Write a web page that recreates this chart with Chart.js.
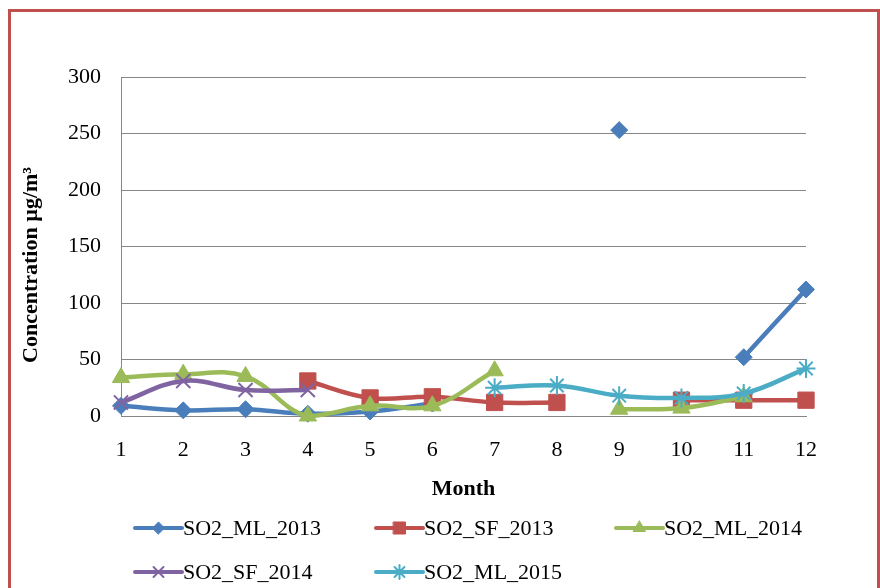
<!DOCTYPE html>
<html>
<head>
<meta charset="utf-8">
<script src="https://cdn.jsdelivr.net/npm/chart.js@4.4.1/dist/chart.umd.min.js"></script>
<style>
  html, body { margin: 0; padding: 0; background: #fff; }
  #wrap { position: relative; width: 880px; height: 588px; overflow: hidden; }
  #frame { position: absolute; left: 8px; top: 9px; width: 866px; height: 600px; border: 3px solid #C0504D; }
  #chart { position: absolute; left: 0; top: 0; }
</style>
</head>
<body>
<div id="wrap">
  <div id="frame"></div>
  <canvas id="chart" width="880" height="588"></canvas>
</div>
<script>
const months = ['1', '2', '3', '4', '5', '6', '7', '8', '9', '10', '11', '12'];

const so2ML2013 = [9, 5, 6, 2, 4, 11, null, null, 253, null, 52, 112];
const so2SF2013 = [null, null, null, 31, 16, 17, 12, 12, null, 14, 14, 14];
const so2ML2014 = [34, 37, 35, 0, 9, 9, 40, null, 6, 7, 17, null];
const so2SF2014 = [12, 31, 23, 23, null, null, null, null, null, null, null, null];
const so2ML2015 = [null, null, null, null, null, null, 25, 27, 18, 16, 20, 42];

const seriesNames = ['SO2_ML_2013', 'SO2_SF_2013', 'SO2_ML_2014', 'SO2_SF_2014', 'SO2_ML_2015'];
const yTicks = [0, 50, 100, 150, 200, 250, 300];

const FONT = '"Liberation Serif", "Times New Roman", serif';
const GRID = '#868686';

// look of each series (colour, marker)
const styles = [
    { color: '#4A7EBB', point: 'rectRot', radius: 8.5, legendRadius: 6 },
    { color: '#C0504D', point: 'rect', radius: 11.5, legendRadius: 8.5 },
    { color: '#9BBB59', point: 'triangle', radius: 10, legendRadius: 7 },
    { color: '#8064A2', point: 'crossRot', radius: 10, legendRadius: 7 },
    { color: '#4BACC6', point: 'star', radius: 9.5, legendRadius: 7 }
];

const allData = [so2ML2013, so2SF2013, so2ML2014, so2SF2014, so2ML2015];

const datasets = allData.map((values, i) => {
    const s = styles[i];
    const crossy = s.point === 'crossRot' || s.point === 'star';
    return {
        label: seriesNames[i],
        data: values,
        borderColor: s.color,
        backgroundColor: s.color,
        borderWidth: 4.5,
        tension: 0.4,
        spanGaps: false,
        clip: false,
        order: allData.length - i,
        pointStyle: s.point,
        pointRadius: s.radius,
        pointBackgroundColor: s.color,
        pointBorderColor: s.color,
        pointBorderWidth: crossy ? 2 : 1
    };
});

// legend under the chart, line + marker like the original
const legendPlugin = {
    id: 'excelLegend',
    afterDraw(chart) {
        const ctx = chart.ctx;
        const cols = [135, 376, 616];
        const rows = [528, 572];
        ctx.save();
        seriesNames.forEach((name, i) => {
            const s = styles[i];
            const x = cols[i % 3];
            const y = rows[Math.floor(i / 3)];
            ctx.strokeStyle = s.color;
            ctx.lineWidth = 4;
            ctx.lineCap = 'round';
            ctx.beginPath();
            ctx.moveTo(x, y);
            ctx.lineTo(x + 47, y);
            ctx.stroke();
            ctx.fillStyle = s.color;
            ctx.lineWidth = (s.point === 'crossRot' || s.point === 'star') ? 2 : 1;
            Chart.helpers.drawPoint(ctx, { pointStyle: s.point, radius: s.legendRadius, rotation: 0, borderWidth: ctx.lineWidth }, x + 23.5, y);
            ctx.fillStyle = '#000';
            ctx.font = '22px ' + FONT;
            ctx.textAlign = 'left';
            ctx.textBaseline = 'middle';
            ctx.fillText(name, x + 48, y + 1);
        });

        // y axis title
        ctx.translate(31, 265);
        ctx.rotate(-Math.PI / 2);
        ctx.fillStyle = '#000';
        ctx.font = 'bold 22px ' + FONT;
        ctx.textAlign = 'center';
        ctx.textBaseline = 'middle';
        ctx.fillText('Concentration µg/m³', 0, 0);
        ctx.restore();
    }
};

const ctx = document.getElementById('chart').getContext('2d');
new Chart(ctx, {
    type: 'line',
    data: {
        labels: months,
        datasets: datasets
    },
    options: {
        responsive: false,
        animation: false,
        layout: {
            padding: { top: 77, right: 74, bottom: 72, left: 0 }
        },
        plugins: {
            legend: { display: false },
            tooltip: { enabled: false }
        },
        scales: {
            x: {
                type: 'category',
                offset: false,
                grid: { display: false, drawTicks: false },
                border: { display: true, color: GRID, width: 1 },
                ticks: {
                    color: '#000',
                    font: { family: FONT, size: 22 },
                    padding: 21,
                    maxRotation: 0,
                    autoSkip: false
                },
                title: {
                    display: true,
                    text: 'Month',
                    color: '#000',
                    font: { family: FONT, size: 22, weight: 'bold' },
                    padding: { top: 0, bottom: 13 }
                },
                afterFit(scale) { scale.height = 100; }
            },
            y: {
                min: 0,
                max: 300,
                afterBuildTicks(scale) { scale.ticks = yTicks.map(v => ({ value: v })); },
                grid: { color: GRID, lineWidth: 1, drawTicks: false },
                border: { display: true, color: GRID, width: 1 },
                ticks: {
                    color: '#000',
                    font: { family: FONT, size: 22 },
                    padding: 20
                },
                afterFit(scale) { scale.width = 121; }
            }
        }
    },
    plugins: [legendPlugin]
});
</script>
</body>
</html>
